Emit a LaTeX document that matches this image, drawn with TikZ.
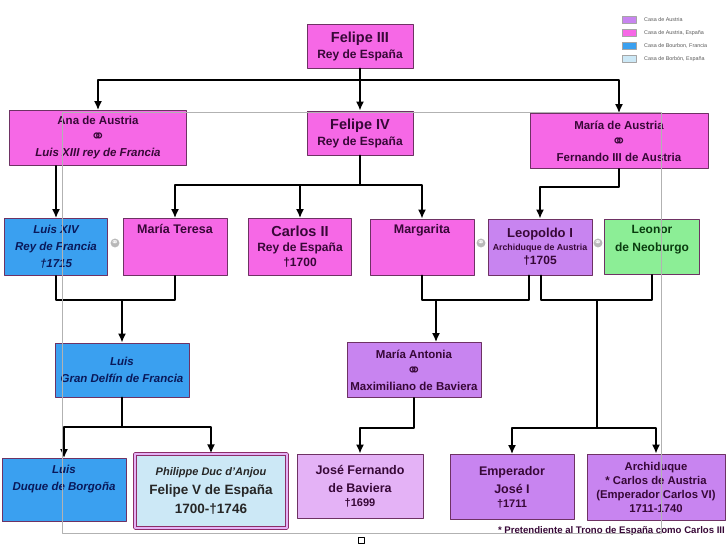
\documentclass[tikz,border=0pt]{standalone}
\usepackage{fontspec}
\setmainfont{Liberation Sans}
\newfontfamily\symfont{DejaVu Sans}
\usetikzlibrary{arrows.meta}

\definecolor{rosa}{RGB}{246,104,230}
\definecolor{azul}{RGB}{58,160,240}
\definecolor{morado}{RGB}{200,132,240}
\definecolor{moradoclaro}{RGB}{228,178,246}
\definecolor{verde}{RGB}{140,238,150}
\definecolor{celeste}{RGB}{204,232,246}
\definecolor{borde}{RGB}{110,50,100}
\definecolor{granate}{RGB}{140,45,105}
\definecolor{tinta}{RGB}{55,8,55}
\definecolor{tintaazul}{RGB}{10,25,90}
\definecolor{tintaverde}{RGB}{10,60,15}

\newcommand{\anillos}{\smash{\raisebox{-2pt}{\symfont\fontsize{18}{10}\selectfont\char"26AD}}}
\newcommand{\anillito}{{\symfont\fontsize{9}{9}\selectfont\char"26AD}}

\tikzset{
  box/.style={draw=borde, line width=0.8pt, align=center, inner sep=2pt,
    text=tinta, font=\bfseries\fontsize{11.5}{16}\selectfont},
  wh/.style 2 args={minimum width=#1, minimum height=#2},
  casarosa/.style={box, fill=rosa},
  casaborbon/.style={box, fill=azul, text=tintaazul,
    font=\bfseries\itshape\fontsize{11.5}{17}\selectfont},
  casaaustria/.style={box, fill=morado},
  boda/.style={circle, fill=gray!55, text=white, inner sep=0pt, minimum size=8pt},
  link/.style={line width=1.7pt, -{Latex[length=9pt,width=8pt]}},
  bar/.style={line width=1.7pt},
  leyenda/.style={draw=gray!70, line width=0.4pt, minimum width=14pt, minimum height=7pt, inner sep=0pt},
  leytexto/.style={anchor=west, text=gray!70!black, font=\fontsize{5.4}{6}\selectfont, inner sep=0pt},
}

\begin{document}
\begin{tikzpicture}[x=1pt,y=-1pt,line cap=round,line join=round]
  \useasboundingbox (0,0) rectangle (728,546);

  % first generation
  \node[casarosa, wh={106}{44}, font=\bfseries\fontsize{12}{16}\selectfont] (felipeIII) at (360,46)
    {{\fontsize{14.5}{16}\selectfont Felipe III}\\Rey de España};

  % second generation
  \node[casarosa, wh={177}{55}] (ana) at (98,138)
    {Ana de Austria\\\anillos\\\itshape Luis XIII rey de Francia};
  \node[casarosa, wh={106}{44}, font=\bfseries\fontsize{12}{16}\selectfont] (felipeIV) at (360,133)
    {{\fontsize{14.5}{16}\selectfont Felipe IV}\\Rey de España};
  \node[casarosa, wh={178}{55}] (mariaA) at (619,141)
    {María de Austria\\\anillos\\Fernando III de Austria};

  % third generation
  \node[casaborbon, wh={103}{57}] (luisXIV) at (56,247)
    {Luis XIV\\Rey de Francia\\†1715};
  \node[casarosa, wh={104}{57}, text depth=36pt, font=\bfseries\fontsize{12.5}{15}\selectfont] (teresa) at (175,247) {María Teresa};
  \node[casarosa, wh={103}{57}, font=\bfseries\fontsize{12}{15}\selectfont] (carlosII) at (300,247)
    {{\fontsize{14.5}{16}\selectfont Carlos II}\\Rey de España\\†1700};
  \node[casarosa, wh={104}{56}, text depth=36pt, font=\bfseries\fontsize{12.5}{15}\selectfont] (margarita) at (422,247) {Margarita};
  \node[casaaustria, wh={104}{56}, font=\bfseries\fontsize{12}{15}\selectfont] (leopoldo) at (540,247)
    {{\fontsize{13}{15}\selectfont Leopoldo I}\\[-2pt]{\fontsize{8.8}{10}\selectfont Archiduque de Austria}\\[-1pt]†1705};
  \node[box, fill=verde, text=tintaverde, wh={95}{55}, font=\bfseries\fontsize{12}{18}\selectfont,
    text depth=18pt] (leonor) at (652,247) {Leonor\\de Neoburgo};

  \node[boda] (boda1) at (115,243) {\anillito};
  \node[boda] (boda2) at (481,243) {\anillito};
  \node[boda] (boda3) at (598,243) {\anillito};

  % fourth generation
  \node[casaborbon, wh={134}{54}] (delfin) at (122,370)
    {Luis\\Gran Delfín de Francia};
  \node[casaaustria, wh={134}{55}] (antonia) at (414,370)
    {María Antonia\\\anillos\\Maximiliano de Baviera};

  % fifth generation
  \node[casaborbon, wh={124}{63}, text depth=24pt] (duque) at (64,490)
    {Luis\\Duque de Borgoña};
  \node[box, fill=celeste, draw=granate, double=moradoclaro, double distance=1.2pt,
    line width=1.2pt, wh={152}{74}, font=\bfseries\fontsize{13.5}{19}\selectfont,
    text=black!85] (philippe) at (211,491)
    {{\itshape\fontsize{11}{14}\selectfont Philippe Duc d'Anjou}\\Felipe V de España\\1700-†1746};
  \node[box, fill=moradoclaro, wh={126}{64}, font=\bfseries\fontsize{12.5}{18}\selectfont]
    (josefer) at (360,486) {José Fernando\\de Baviera\\[-4pt]{\fontsize{11}{13}\selectfont †1699}};
  \node[casaaustria, wh={124}{65}, font=\bfseries\fontsize{12.5}{18}\selectfont]
    (joseI) at (512,487) {Emperador\\José I\\[-4pt]{\fontsize{11}{13}\selectfont †1711}};
  \node[casaaustria, wh={138}{66}, font=\bfseries\fontsize{11.3}{14}\selectfont]
    (archi) at (656,487) {Archiduque\\* Carlos de Austria\\(Emperador Carlos VI)\\1711-1740};

  \node[anchor=east, inner sep=0pt, text=tinta, font=\bfseries\fontsize{9.6}{10}\selectfont]
    (nota) at (725,531) {* Pretendiente al Trono de España como Carlos III};

  % legend
  \foreach \y/\c/\t in {20/morado/Casa de Austria, 33/rosa/{Casa de Austria, España},
      46/azul/{Casa de Bourbon, Francia}, 59/celeste/{Casa de Borbón, España}} {
    \node[leyenda, fill=\c] (ley\y) at (629,\y) {};
    \node[leytexto] at (644,\y) {\t};
  }

  % connectors
  \coordinate (j1) at (360,80);
  \draw[link] (felipeIII.south) -- (felipeIV.north);
  \draw[link] (j1) -| (ana.north);
  \draw[link] (j1) -| (mariaA.north);

  \draw[link] (ana.south -| luisXIV.north) -- (luisXIV.north);

  \coordinate (j2) at (360,185);
  \draw[bar] (felipeIV.south) -- (j2);
  \draw[link] (j2) -| (teresa.north);
  \draw[link] (j2) -| (carlosII.north);
  \draw[link] (j2) -| (margarita.north);

  \draw[link] (mariaA.south) -- ++(0,18) -| (leopoldo.north);

  \coordinate (y300) at (0,300);
  \draw[bar] (luisXIV.south) |- (teresa.south |- y300) -- (teresa.south);
  \coordinate (j3) at (122,300);
  \draw[link] (j3) -- (delfin.north);

  \draw[bar] (margarita.south) |- ([xshift=-11pt]leopoldo.south |- y300) -- ([xshift=-11pt]leopoldo.south);
  \coordinate (j4) at (436,300);
  \draw[link] (j4) -- (j4 |- antonia.north);

  \draw[bar] ([xshift=1pt]leopoldo.south) |- (leonor.south |- y300) -- (leonor.south);
  \coordinate (j5) at (597,300);
  \coordinate (j6) at (597,428);
  \draw[bar] (j5) -- (j6);
  \draw[link] (j6) -| (joseI.north);
  \draw[link] (j6) -| (archi.north);

  \coordinate (j7) at (122,427);
  \draw[bar] (delfin.south) -- (j7);
  \draw[link] (j7) -| (duque.north);
  \draw[link] (j7) -| (philippe.north);

  \draw[link] (antonia.south) -- ++(0,30) -| (josefer.north);

  % stray frame
  \draw[gray!60, line width=0.4pt] (62,112) rectangle (661,533);
  \draw[black, line width=0.5pt] (358,537) rectangle (364,543);
\end{tikzpicture}
\end{document}
